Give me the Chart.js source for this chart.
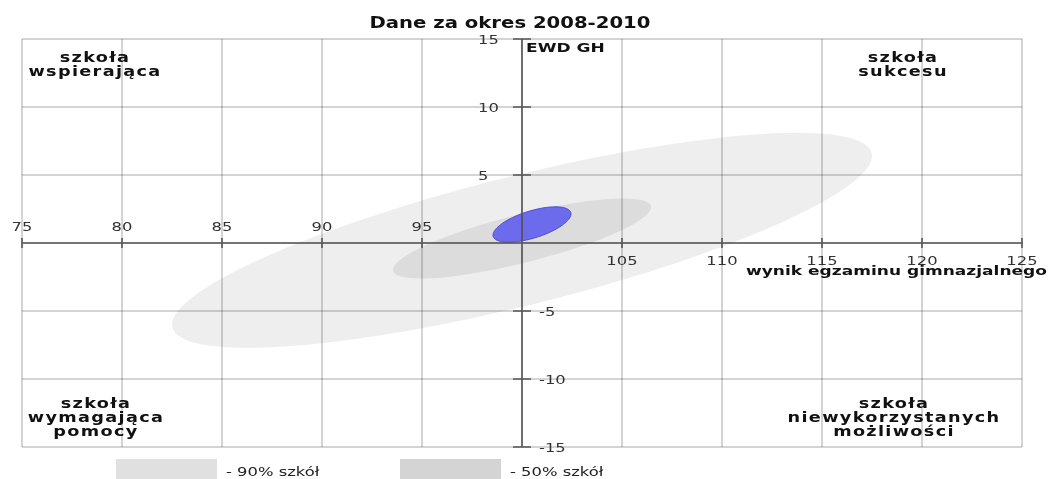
<!DOCTYPE html>
<html>
<head>
<meta charset="utf-8">
<script src="https://cdn.jsdelivr.net/npm/chart.js@4.4.0/dist/chart.umd.min.js"></script>
<style>
  html, body { margin: 0; padding: 0; background: #fff; }
  #wrap { width: 1050px; height: 479px; }
</style>
</head>
<body>
<div id="wrap"><canvas id="chart" width="1050" height="479"></canvas></div>
<script>
// data
const xTicks = [75, 80, 85, 90, 95, 100, 105, 110, 115, 120, 125];
const yTicks = [15, 10, 5, 0, -5, -10, -15];
const xCross = 100;
const yCross = 0;

// ellipses: centre, half extent along x, half extent along y, y offset at the x-extreme (tilt)
const ellipseNames = ['90% szkół', '50% szkół', 'szkoła'];
const ellipseCenterX = [100.0, 100.0, 100.5];
const ellipseCenterY = [0.2, 0.33, 1.36];
const ellipseHalfX = [17.5, 6.45, 1.95];
const ellipseHalfY = [7.9, 2.94, 1.3];
const ellipseTiltY = [6.2, 2.3, 0.78];
const ellipseFill = ['#eeeeee', '#dcdcdc', '#6b6beb'];
const ellipseStroke = [null, null, '#4a4ad2'];

const legendLabels = ['- 90% szkół', '- 50% szkół'];
const legendColors = ['#e0e0e0', '#d4d4d4'];

const chartTitle = 'Dane za okres 2008-2010';
const yAxisTitle = 'EWD GH';
const xAxisTitle = 'wynik egzaminu gimnazjalnego';
const quadrantLabels = [
  ['szkoła', 'wspierająca'],
  ['szkoła', 'sukcesu'],
  ['szkoła', 'wymagająca', 'pomocy'],
  ['szkoła', 'niewykorzystanych', 'możliwości']
];

const FONT = "'DejaVu Sans', sans-serif";
const SX = 1.31; // picture is stretched horizontally

function drawText(ctx, text, x, y, align, font, color, spacing) {
  ctx.save();
  ctx.translate(x, y);
  ctx.scale(SX, 1);
  ctx.font = font;
  ctx.fillStyle = color;
  ctx.textAlign = align;
  ctx.textBaseline = 'alphabetic';
  if ('letterSpacing' in ctx) ctx.letterSpacing = (spacing || 0) + 'px';
  ctx.fillText(text, 0, 0);
  ctx.restore();
}

const ellipsePlugin = {
  id: 'ellipses',
  beforeDraw(chart) {
    const ctx = chart.ctx;
    const xs = chart.scales.x;
    const ys = chart.scales.y;
    ellipseNames.forEach((name, i) => {
      const ux = ellipseHalfX[i];
      const uy = ellipseTiltY[i];
      const vy = Math.sqrt(Math.max(0, ellipseHalfY[i] * ellipseHalfY[i] - uy * uy));
      ctx.save();
      ctx.beginPath();
      for (let k = 0; k <= 180; k++) {
        const t = k / 180 * Math.PI * 2;
        const px = xs.getPixelForValue(ellipseCenterX[i] + ux * Math.cos(t));
        const py = ys.getPixelForValue(ellipseCenterY[i] + uy * Math.cos(t) + vy * Math.sin(t));
        if (k === 0) ctx.moveTo(px, py); else ctx.lineTo(px, py);
      }
      ctx.closePath();
      ctx.fillStyle = ellipseFill[i];
      ctx.fill();
      if (ellipseStroke[i]) {
        ctx.strokeStyle = ellipseStroke[i];
        ctx.lineWidth = 1;
        ctx.stroke();
      }
      ctx.restore();
    });
  }
};

const axesPlugin = {
  id: 'crossAxes',
  afterDraw(chart) {
    const ctx = chart.ctx;
    const xs = chart.scales.x;
    const ys = chart.scales.y;
    const area = chart.chartArea;
    const x0 = xs.getPixelForValue(xCross);
    const y0 = ys.getPixelForValue(yCross);

    ctx.save();
    ctx.strokeStyle = '#555';
    ctx.lineWidth = 1.6;
    ctx.beginPath();
    ctx.moveTo(area.left, y0);
    ctx.lineTo(area.right, y0);
    ctx.moveTo(x0, area.top);
    ctx.lineTo(x0, area.bottom);
    xTicks.forEach(v => {
      const px = xs.getPixelForValue(v);
      ctx.moveTo(px, y0 - 5);
      ctx.lineTo(px, y0 + 5);
    });
    yTicks.forEach(v => {
      const py = ys.getPixelForValue(v);
      ctx.moveTo(x0 - 9, py);
      ctx.lineTo(x0 + 9, py);
    });
    ctx.stroke();
    ctx.restore();

    const tickFont = '12.5px ' + FONT;
    xTicks.forEach(v => {
      if (v === xCross) return;
      const px = xs.getPixelForValue(v);
      const py = v < xCross ? y0 - 12 : y0 + 22;
      drawText(ctx, String(v), px, py, 'center', tickFont, '#333');
    });
    yTicks.forEach(v => {
      if (v === yCross) return;
      const py = ys.getPixelForValue(v) + 4.5;
      if (v > yCross) drawText(ctx, String(v), x0 - 44, py, 'left', tickFont, '#333');
      else drawText(ctx, String(v), x0 + 17, py, 'left', tickFont, '#333');
    });

    drawText(ctx, chartTitle, 510, 28, 'center', 'bold 15px ' + FONT, '#111');
    drawText(ctx, yAxisTitle, x0 + 4, 52, 'left', 'bold 13px ' + FONT, '#111');
    drawText(ctx, xAxisTitle, 1047, 275, 'right', 'bold 13px ' + FONT, '#111');

    const qFont = 'bold 13.5px ' + FONT;
    const qPos = [[95, 62], [903, 62], [96, 408], [894, 408]];
    quadrantLabels.forEach((lines, i) => {
      lines.forEach((line, j) => {
        drawText(ctx, line, qPos[i][0], qPos[i][1] + j * 14, 'center', qFont, '#111', 1);
      });
    });

    const boxX = [116, 400];
    legendLabels.forEach((label, i) => {
      ctx.fillStyle = legendColors[i];
      ctx.fillRect(boxX[i], 459, 101, 22);
      drawText(ctx, label, boxX[i] + 110, 476, 'left', '12.5px ' + FONT, '#222');
    });
  }
};

new Chart(document.getElementById('chart').getContext('2d'), {
  type: 'scatter',
  data: {
    datasets: [{
      label: 'EWD',
      data: [],
      pointRadius: 0
    }]
  },
  options: {
    responsive: false,
    animation: false,
    layout: { padding: { left: 22, right: 28, top: 39, bottom: 32 } },
    plugins: {
      legend: { display: false },
      title: { display: false },
      tooltip: { enabled: false }
    },
    scales: {
      x: {
        type: 'linear',
        min: xTicks[0],
        max: xTicks[xTicks.length - 1],
        ticks: { display: false, stepSize: 5 },
        grid: { color: 'rgba(0,0,0,0.17)', lineWidth: 2, drawTicks: false },
        border: { display: false }
      },
      y: {
        type: 'linear',
        min: yTicks[yTicks.length - 1],
        max: yTicks[0],
        ticks: { display: false, stepSize: 5 },
        grid: { color: 'rgba(0,0,0,0.17)', lineWidth: 2, drawTicks: false },
        border: { display: false }
      }
    }
  },
  plugins: [ellipsePlugin, axesPlugin]
});
</script>
</body>
</html>
